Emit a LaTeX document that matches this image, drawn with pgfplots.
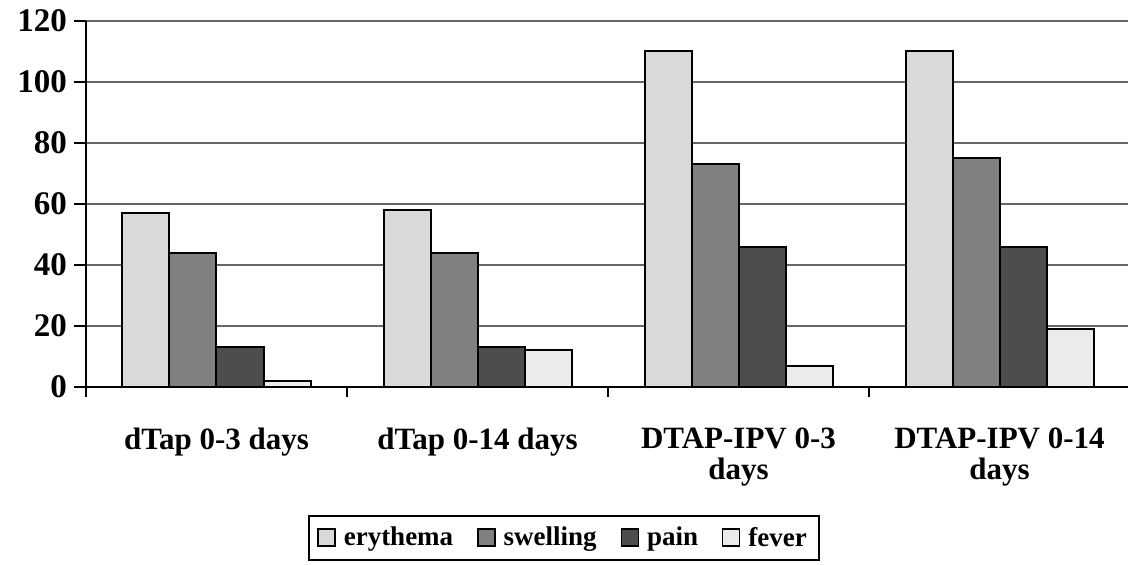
\documentclass[border=0pt]{standalone}
\usepackage{fontspec}
\setmainfont{Liberation Serif}
\usepackage{pgfplots}
\pgfplotsset{compat=1.18}
\definecolor{ery}{HTML}{D9D9D9}
\definecolor{swe}{HTML}{808080}
\definecolor{pai}{HTML}{4D4D4D}
\definecolor{fev}{HTML}{EBEBEB}
\begin{document}
\begin{tikzpicture}
\begin{axis}[
  scale only axis, width=522pt, height=183pt,
  ybar=0pt, bar width=23.5pt,
  xmin=-0.5, xmax=3.5, ymin=0, ymax=120,
  ytick={0,20,...,120},
  xtick={0,1,2,3},
  xticklabels={dTap 0-3 days, dTap 0-14 days, {DTAP-IPV 0-3\\days}, {DTAP-IPV 0-14\\days}},
  xticklabel style={align=center, font=\fontsize{15.5}{15.5}\selectfont\bfseries, yshift=-11pt},
  yticklabel style={font=\fontsize{16.5}{18}\selectfont\bfseries},
  /pgf/number format/assume math mode=true,
  axis x line=bottom, axis y line=left,
  axis line style={-, line width=1pt},
  ymajorgrids, grid style={line width=1.2pt, black!60},
  tick align=outside,
  major tick length=6pt, minor tick length=5pt,
  major x tick style={draw=none},
  minor xtick={-0.5,0.5,1.5,2.5},
  minor x tick style={black, line width=1pt},
  y tick style={black, line width=1pt},
  legend style={at={(0.458,-0.35)}, anchor=north, legend columns=4,
    draw=black, line width=1pt, inner xsep=4pt, inner ysep=3.5pt,
    font=\fontsize{13.5}{14}\selectfont\bfseries,
    /tikz/every odd column/.append style={column sep=2pt},
    /tikz/every even column/.append style={column sep=10pt}},
  legend image code/.code={\draw[#1, line width=0.7pt] (0pt,-4pt) rectangle (8.5pt,4.5pt);},
]
\addplot[fill=ery, draw=black, line width=1pt] coordinates {(0,57) (1,58) (2,110) (3,110)};
\addlegendentry{erythema}
\addplot[fill=swe, draw=black, line width=1pt] coordinates {(0,44) (1,44) (2,73) (3,75)};
\addlegendentry{swelling}
\addplot[fill=pai, draw=black, line width=1pt] coordinates {(0,13) (1,13) (2,46) (3,46)};
\addlegendentry{pain}
\addplot[fill=fev, draw=black, line width=1pt] coordinates {(0,2) (1,12) (2,7) (3,19)};
\addlegendentry{fever}
\end{axis}
\pgfresetboundingbox
\path (-43pt,-89pt) rectangle (521pt,193.5pt);
\end{tikzpicture}
\end{document}
